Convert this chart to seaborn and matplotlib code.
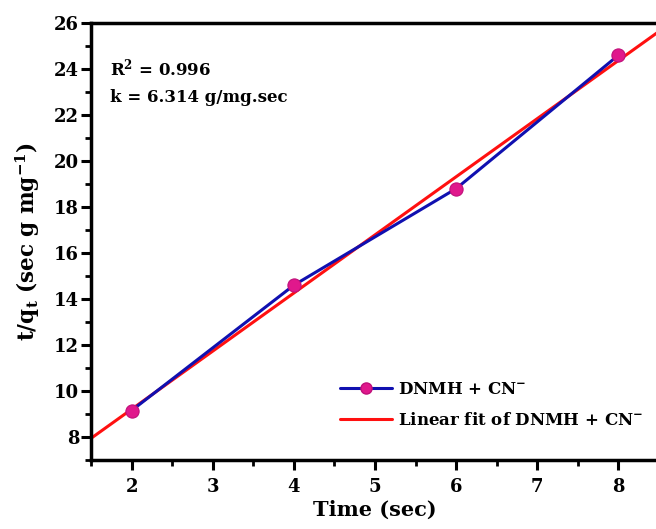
import matplotlib
matplotlib.use("Agg")
import matplotlib.pyplot as plt
import seaborn as sns
import numpy as np
import pandas as pd
from matplotlib.ticker import MultipleLocator
from matplotlib.lines import Line2D

time_sec = [2, 4, 6, 8]
t_over_qt = [9.15, 14.6, 18.8, 24.6]
series_label = "DNMH + CN$^{-}$"
fit_label = "Linear fit of DNMH + CN$^{-}$"
r2_text = "R$^{2}$ = 0.996"
k_text = "k = 6.314 g/mg.sec"

sns.set_theme(style="ticks")
plt.rcParams['font.family'] = ['DejaVu Serif']
plt.rcParams['font.weight'] = 'bold'
plt.rcParams['text.color'] = 'black'
plt.rcParams['axes.labelcolor'] = 'black'
plt.rcParams['xtick.color'] = 'black'
plt.rcParams['ytick.color'] = 'black'
plt.rcParams['mathtext.fontset'] = 'custom'
plt.rcParams['mathtext.rm'] = 'DejaVu Serif:bold'
plt.rcParams['mathtext.it'] = 'DejaVu Serif:bold'
plt.rcParams['mathtext.bf'] = 'DejaVu Serif:bold'

df = pd.DataFrame({"Time": time_sec, "tq": t_over_qt})

fig = plt.figure(figsize=(6.56, 5.29), dpi=100)
ax = fig.add_axes([91/656, 69/529, 568/656, 437/529])
ax.set_xlim(1.5, 8.5)
ax.set_ylim(7, 26)

sns.regplot(data=df, x="Time", y="tq", ax=ax, scatter=False, ci=None,
            truncate=False, color="#FF1010", line_kws={"lw": 2.2, "zorder": 2})
sns.lineplot(data=df, x="Time", y="tq", ax=ax, color="#1010B0", lw=2.2,
             marker="o", markersize=9.5, markerfacecolor="#E0188C",
             markeredgecolor="#C0107A", markeredgewidth=0.8, zorder=3)

ax.set_xlim(1.5, 8.5)
ax.set_ylim(7, 26)
ax.xaxis.set_minor_locator(MultipleLocator(0.5))
ax.yaxis.set_minor_locator(MultipleLocator(1))
ax.set_yticks([8, 10, 12, 14, 16, 18, 20, 22, 24, 26])
ax.set_xticks([2, 3, 4, 5, 6, 7, 8])
ax.tick_params(which="major", direction="out", length=7, width=2.2,
               labelsize=13, color="black", labelcolor="black")
ax.tick_params(axis="y", which="major", pad=1.5)
ax.tick_params(axis="x", which="major", pad=6)
ax.tick_params(which="minor", direction="out", length=4, width=2.0, color="black")
for lab in ax.get_xticklabels() + ax.get_yticklabels():
    lab.set_fontweight("bold")
for s in ["left", "bottom", "top", "right"]:
    ax.spines[s].set_linewidth(2.5)
    ax.spines[s].set_color("black")

ax.set_xlabel("Time (sec)", fontsize=15, fontweight="bold", labelpad=3, color="black")
ax.set_ylabel("t/q$_{\\mathrm{t}}$ (sec g mg$^{-1}$)", fontsize=15.5, fontweight="bold",
              labelpad=9, color="black")

ax.text(110/656, 1 - 68/529, r2_text, transform=fig.transFigure, fontsize=12,
        fontweight="bold", va="center", ha="left", color="black")
ax.text(110/656, 1 - 97/529, k_text, transform=fig.transFigure, fontsize=12,
        fontweight="bold", va="center", ha="left", color="black")

handles = [Line2D([], [], color="#1010B0", lw=2.2, marker="o", markersize=8,
                  markerfacecolor="#E0188C", markeredgecolor="#C0107A"),
           Line2D([], [], color="#FF1010", lw=2.2)]
leg = ax.legend(handles, [series_label, fit_label], loc="lower left",
                bbox_to_anchor=(340/656, 1 - 429/529), bbox_transform=fig.transFigure,
                frameon=False, fontsize=12, handlelength=3.1, handletextpad=0.35,
                labelspacing=0.85, borderaxespad=0, borderpad=0)
for t in leg.get_texts():
    t.set_fontweight("bold")
    t.set_color("black")

fig.savefig("out.png", dpi=100)
